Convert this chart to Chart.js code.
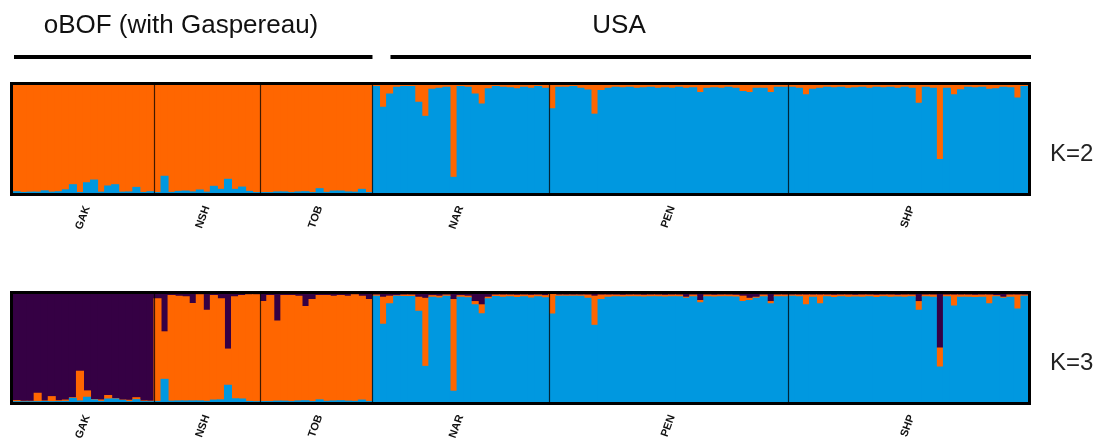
<!DOCTYPE html>
<html>
<head>
<meta charset="utf-8">
<script src="https://cdn.jsdelivr.net/npm/chart.js@4.4.1/dist/chart.umd.min.js"></script>
<style>
  html, body { margin: 0; padding: 0; background: #fff; }
  #page { position: relative; width: 1106px; height: 443px; overflow: hidden; }
  #k2Chart { position: absolute; left: 0; top: 0; }
  #k3Chart { position: absolute; left: 0; top: 250px; }
</style>
</head>
<body>
<div id="page">
  <canvas id="k2Chart" width="1106" height="250"></canvas>
  <canvas id="k3Chart" width="1106" height="193"></canvas>
</div>
<script>
// populations, in plot order
const POPS = ['GAK', 'NSH', 'TOB', 'NAR', 'PEN', 'SHP'];
const GROUP_TITLES = ['oBOF (with Gaspereau)', 'USA'];
const GROUP_SIZES = [3, 3]; // number of populations in each group
const K_LABELS = ['K=2', 'K=3'];

// --- K=2: membership in the orange cluster (blue = the rest) ---
const k2OrangeGAK = [0.988,0.995,0.992,0.992,0.98,0.992,0.988,0.97,0.923,0.995,0.905,0.88,0.992,0.935,0.923,0.992,0.99,0.948,0.995,0.988];
const k2OrangeNSH = [0.996,0.845,0.994,0.985,0.982,0.99,0.972,0.992,0.938,0.966,0.873,0.966,0.945,0.985,0.996];
const k2OrangeTOB = [0.996,0.996,0.99,0.99,0.996,0.99,0.988,0.996,0.96,0.994,0.982,0.982,0.99,0.992,0.966,0.996];
const k2OrangeNAR = [0.015,0.207,0.083,0.02,0.015,0.015,0.16,0.29,0.04,0.03,0.02,0.855,0.015,0.02,0.083,0.176,0.034,0.015,0.02,0.025,0.034,0.02,0.03,0.015,0.03];
const k2OrangePEN = [0.22,0.02,0.02,0.015,0.03,0.046,0.27,0.05,0.03,0.02,0.025,0.02,0.03,0.025,0.02,0.03,0.025,0.03,0.02,0.03,0.025,0.07,0.03,0.025,0.03,0.02,0.03,0.06,0.07,0.03,0.03,0.07,0.02,0.02];
const k2OrangeSHP = [0.02,0.03,0.09,0.04,0.03,0.02,0.025,0.02,0.03,0.025,0.02,0.03,0.02,0.025,0.02,0.03,0.02,0.03,0.17,0.02,0.03,0.69,0.03,0.09,0.045,0.02,0.025,0.02,0.04,0.035,0.02,0.025,0.12,0.015];

// --- K=3: purple and blue clusters (orange = the rest) ---
const k3PurpleGAK = [0.987,0.993,0.993,0.919,0.99,0.95,0.988,0.982,0.96,0.715,0.897,0.977,0.981,0.94,0.969,0.982,0.984,0.96,0.99,0.992];
const k3BlueGAK   = [0.003,0.002,0.002,0.003,0.005,0.003,0.004,0.006,0.034,0.01,0.044,0.02,0.006,0.028,0.028,0.015,0.004,0.022,0.004,0.003];
const k3PurpleNSH = [0.044,0.35,0.013,0.02,0.025,0.088,0.006,0.15,0.013,0.044,0.51,0.025,0.013,0.006,0.006];
const k3BlueNSH   = [0.005,0.21,0.008,0.01,0.01,0.01,0.01,0.006,0.018,0.02,0.155,0.03,0.028,0.005,0.003];
const k3PurpleTOB = [0.07,0.013,0.25,0.013,0.013,0.02,0.115,0.05,0.013,0.013,0.02,0.013,0.02,0.006,0.02,0.05];
const k3BlueTOB   = [0.004,0.004,0.008,0.008,0.004,0.01,0.012,0.004,0.02,0.006,0.01,0.012,0.008,0.006,0.018,0.004];
const k3PurpleNAR = [0.01,0.03,0.02,0.015,0.01,0.01,0.03,0.04,0.015,0.02,0.01,0.05,0.015,0.02,0.07,0.1,0.03,0.01,0.01,0.01,0.012,0.01,0.012,0.01,0.015];
const k3BlueNAR   = [0.98,0.72,0.91,0.979,0.978,0.978,0.84,0.33,0.97,0.962,0.98,0.1,0.97,0.965,0.9,0.817,0.955,0.978,0.97,0.975,0.968,0.975,0.963,0.975,0.965];
const k3PurplePEN = [0.005,0.01,0.01,0.01,0.01,0.01,0.02,0.01,0.01,0.01,0.012,0.01,0.01,0.012,0.01,0.01,0.012,0.01,0.01,0.03,0.01,0.06,0.01,0.012,0.01,0.01,0.012,0.02,0.04,0.03,0.01,0.07,0.01,0.01];
const k3BluePEN   = [0.815,0.98,0.98,0.98,0.98,0.96,0.71,0.95,0.97,0.975,0.973,0.975,0.975,0.973,0.975,0.975,0.973,0.975,0.975,0.96,0.975,0.92,0.975,0.973,0.975,0.975,0.973,0.93,0.94,0.96,0.975,0.91,0.975,0.975];
const k3PurpleSHP = [0.01,0.01,0.01,0.01,0.01,0.01,0.012,0.01,0.01,0.012,0.01,0.01,0.012,0.01,0.01,0.012,0.01,0.01,0.07,0.01,0.01,0.5,0.01,0.01,0.01,0.01,0.012,0.01,0.01,0.015,0.03,0.01,0.01,0.01];
const k3BlueSHP   = [0.98,0.975,0.9,0.97,0.91,0.975,0.968,0.975,0.97,0.973,0.97,0.975,0.968,0.975,0.97,0.973,0.97,0.975,0.85,0.975,0.97,0.324,0.975,0.89,0.97,0.97,0.968,0.97,0.91,0.975,0.96,0.97,0.86,0.98];

const ORANGE = '#ff6600';
const BLUE = '#0098e0';
const PURPLE = '#350044';
const FONT = '"Liberation Sans", Arial, Helvetica, sans-serif';

// ---------- build the per-individual series ----------
const k2OrangeAll = [k2OrangeGAK, k2OrangeNSH, k2OrangeTOB, k2OrangeNAR, k2OrangePEN, k2OrangeSHP];
const k3PurpleAll = [k3PurpleGAK, k3PurpleNSH, k3PurpleTOB, k3PurpleNAR, k3PurplePEN, k3PurpleSHP];
const k3BlueAll = [k3BlueGAK, k3BlueNSH, k3BlueTOB, k3BlueNAR, k3BluePEN, k3BlueSHP];

const popSizes = k2OrangeAll.map(a => a.length);
const popStarts = [];
popSizes.reduce((acc, n) => { popStarts.push(acc); return acc + n; }, 0);
const nInd = popSizes.reduce((a, b) => a + b, 0);

const individuals = [];
POPS.forEach((p, i) => { for (let j = 0; j < popSizes[i]; j++) individuals.push(p + '_' + (j + 1)); });

// one label per population, on its middle individual
const tickText = {};
POPS.forEach((p, i) => { tickText[popStarts[i] + Math.floor(popSizes[i] / 2)] = p; });

const rest = (a, b) => Math.max(0, +(1 - a - (b || 0)).toFixed(3));

const k2Orange = k2OrangeAll.flat();
const k2Blue = k2Orange.map(v => rest(v));
const k3Purple = k3PurpleAll.flat();
const k3Blue = k3BlueAll.flat();
const k3Orange = k3Purple.map((v, i) => rest(v, k3Blue[i]));

// ---------- drawing helpers ----------
function edgeX(chart, idx) {
    const a = chart.chartArea;
    return a.left + (a.right - a.left) * idx / nInd;
}

const framePlugin = {
    id: 'structureFrame',
    afterDatasetsDraw(chart) {
        const { ctx, chartArea: a } = chart;
        ctx.save();
        // thin lines between populations
        ctx.strokeStyle = 'rgba(0,0,0,0.75)';
        ctx.lineWidth = 1.2;
        popStarts.slice(1).forEach(s => {
            const px = Math.round(edgeX(chart, s)) + 0.5;
            ctx.beginPath();
            ctx.moveTo(px, a.top);
            ctx.lineTo(px, a.bottom);
            ctx.stroke();
        });
        // outer box
        ctx.strokeStyle = '#000';
        ctx.lineWidth = 3;
        ctx.strokeRect(a.left - 1.5, a.top - 1.5, a.right - a.left + 3, a.bottom - a.top + 3);
        ctx.restore();
    }
};

// group titles + bars above the K=2 panel
const TITLE_X = [181, 619];
const groupPlugin = {
    id: 'groupHeader',
    afterDraw(chart) {
        const ctx = chart.ctx;
        ctx.save();
        ctx.fillStyle = '#111';
        ctx.strokeStyle = '#000';
        ctx.lineWidth = 4;
        ctx.font = '26px ' + FONT;
        ctx.textAlign = 'center';
        ctx.textBaseline = 'alphabetic';
        let p0 = 0;
        GROUP_TITLES.forEach((t, g) => {
            const p1 = p0 + GROUP_SIZES[g];
            const iStart = popStarts[p0];
            const iEnd = p1 < POPS.length ? popStarts[p1] : nInd;
            const x0 = edgeX(chart, iStart) + (g === 0 ? 1 : 18);
            const x1 = edgeX(chart, iEnd) + (g === 0 ? 0 : 3);
            ctx.beginPath();
            ctx.moveTo(x0, 57);
            ctx.lineTo(x1, 57);
            ctx.stroke();
            ctx.fillText(t, TITLE_X[g], 33);
            p0 = p1;
        });
        ctx.restore();
    }
};

function makeChart(canvasId, datasets, kLabel, padTop, xHeight, withHeader) {
    return new Chart(document.getElementById(canvasId), {
        type: 'bar',
        data: { labels: individuals, datasets },
        options: {
            responsive: false,
            animation: false,
            layout: { padding: { left: 13, top: padTop, right: 0, bottom: 0 } },
            plugins: { legend: { display: false }, tooltip: { enabled: false } },
            datasets: { bar: { barPercentage: 1, categoryPercentage: 1, borderWidth: 0, inflateAmount: 0.5 } },
            scales: {
                x: {
                    stacked: true,
                    grid: { display: false, drawTicks: false },
                    border: { display: false },
                    ticks: {
                        autoSkip: false, minRotation: 70, maxRotation: 70, padding: 11,
                        color: '#111', font: { family: FONT, size: 11, weight: 'bold' },
                        callback: (v, i) => tickText[i] || ''
                    },
                    afterFit: s => { s.height = xHeight; }
                },
                y: {
                    stacked: true, min: 0, max: 1, position: 'right',
                    grid: { display: false, drawTicks: false },
                    border: { display: false },
                    afterBuildTicks: s => { s.ticks = [{ value: 0.36 }]; },
                    ticks: {
                        padding: 22, color: '#222', font: { family: FONT, size: 24 },
                        callback: () => kLabel
                    },
                    afterFit: s => { s.width = 78; }
                }
            }
        },
        plugins: withHeader ? [framePlugin, groupPlugin] : [framePlugin]
    });
}

makeChart('k2Chart', [
    { label: 'cluster 2', data: k2Blue, backgroundColor: BLUE },
    { label: 'cluster 1', data: k2Orange, backgroundColor: ORANGE }
], K_LABELS[0], 85, 57, true);

makeChart('k3Chart', [
    { label: 'cluster 3', data: k3Blue, backgroundColor: BLUE },
    { label: 'cluster 2', data: k3Orange, backgroundColor: ORANGE },
    { label: 'cluster 1', data: k3Purple, backgroundColor: PURPLE }
], K_LABELS[1], 44, 41, false);
</script>
</body>
</html>
